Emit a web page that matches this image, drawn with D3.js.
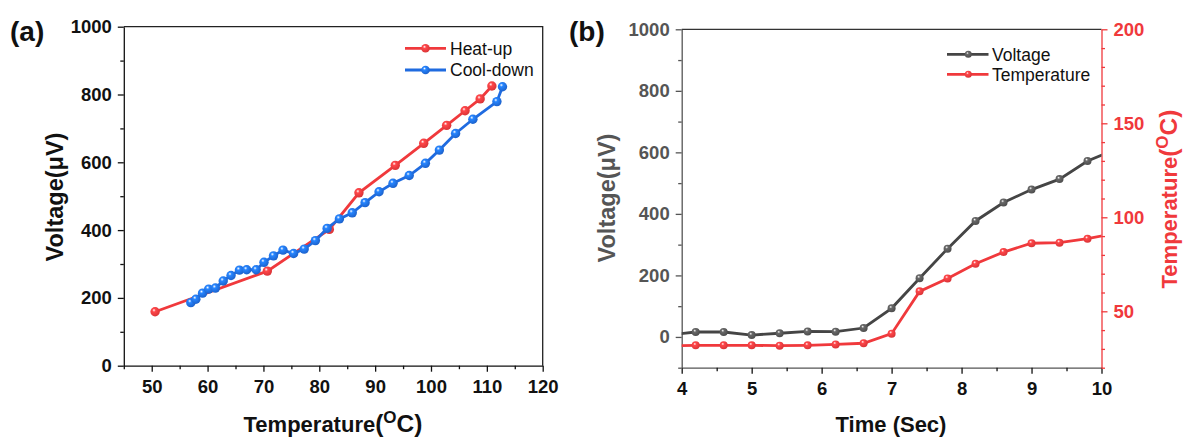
<!DOCTYPE html>
<html>
<head>
<meta charset="utf-8">
<script src="https://cdn.jsdelivr.net/npm/d3@7"></script>
<style>
  html, body { margin: 0; padding: 0; background: #fff; }
  svg { display: block; }
  text { font-family: Arial, "Liberation Sans", Helvetica, sans-serif; }
</style>
</head>
<body>
<svg id="chart" width="1183" height="443"></svg>
<script>
// ---------- Panel (a) data ----------
const heatTemp = [50.6, 70.7, 81.8, 87.1, 93.6, 98.7, 102.8, 106.1, 108.8, 110.9];
const heatVolt = [159, 279, 402, 510, 591, 656, 709, 752, 787, 825];
const coolTemp = [57.0, 57.9, 59.1, 60.2, 61.4, 62.8, 64.2, 65.7, 67.0, 68.7, 70.1, 71.8, 73.5, 75.4, 77.3, 79.3, 81.4, 83.6, 85.9, 88.2, 90.7, 93.2, 96.1, 99.0, 101.5, 104.4, 107.5, 111.8, 112.8];
const coolVolt = [186, 196, 214, 226, 229, 250, 266, 282, 283, 283, 305, 324, 341, 331, 344, 369, 405, 433, 451, 481, 513, 538, 561, 597, 636, 685, 727, 779, 823];
const aXTicks = [50, 60, 70, 80, 90, 100, 110, 120];
const aXMinor = [45, 55, 65, 75, 85, 95, 105, 115];
const aYTicks = [0, 200, 400, 600, 800, 1000];
const aYMinor = [100, 300, 500, 700, 900];
const aLegend = ["Heat-up", "Cool-down"];

// ---------- Panel (b) data ----------
const timeSec = [3.8, 4.2, 4.6, 5.0, 5.4, 5.8, 6.2, 6.6, 7.0, 7.4, 7.8, 8.2, 8.6, 9.0, 9.4, 9.8, 10.2];
const voltB   = [6, 16, 16, 6, 12, 18, 17, 29, 93, 191, 287, 377, 437, 479, 513, 572, 610];
const tempB   = [31.5, 31.9, 31.9, 31.9, 31.7, 31.9, 32.4, 33.0, 38.1, 60.6, 67.5, 75.3, 81.5, 86.2, 86.5, 88.6, 91.5];
const bXTicks = [4, 5, 6, 7, 8, 9, 10];
const bXMinor = [4.5, 5.5, 6.5, 7.5, 8.5, 9.5];
const bYTicks = [0, 200, 400, 600, 800, 1000];
const bYMinor = [-100, 100, 300, 500, 700, 900];
const bRTicks = [50, 100, 150, 200];
const bRMinor = [20, 30, 40, 60, 70, 80, 90, 110, 120, 130, 140, 160, 170, 180, 190];
const bLegend = ["Voltage", "Temperature"];

// ---------- Styles ----------
const RED = "#f0393c", BLUE = "#1f6be0", GRAY = "#454545", AXGRAY = "#555555";
const FONT = 'Arial, "Liberation Sans", Helvetica, sans-serif';
const TICK = 18.5;
const fmt = d3.format("d");
const svg = d3.select("#chart");
const defs = svg.append("defs");
function grad(id, base) {
  const g = defs.append("radialGradient").attr("id", id)
    .attr("cx", "40%").attr("cy", "38%").attr("r", "65%").attr("fx", "38%").attr("fy", "32%");
  g.append("stop").attr("offset", "0%").attr("stop-color", "#ffffff");
  g.append("stop").attr("offset", "28%").attr("stop-color", d3.color(base).brighter(0.6));
  g.append("stop").attr("offset", "100%").attr("stop-color", d3.color(base).darker(0.3));
}
grad("gRed", RED); grad("gBlue", BLUE); grad("gGray", "#555555");

function styleAxis(g, color, size) {
  g.attr("font-size", size).attr("font-family", FONT);
  g.selectAll("path.domain").attr("stroke", color).attr("stroke-width", 1.3);
  g.selectAll(".tick line").attr("stroke", color).attr("stroke-width", 1.3);
  g.selectAll(".tick text").attr("fill", color).attr("font-size", size).attr("font-weight", "bold")
    .attr("font-family", FONT);
}
function minorAxis(g, color) {
  g.select("path.domain").remove();
  g.selectAll(".tick line").attr("stroke", color).attr("stroke-width", 1.3);
  g.selectAll(".tick text").remove();
}
function tempTitle(sel, fill) {
  sel.attr("font-weight", "bold").attr("fill", fill).attr("text-anchor", "middle");
  sel.append("tspan").attr("font-size", 22).text("Temperature");
  sel.append("tspan").attr("font-size", 24.5).text("(");
  sel.append("tspan").attr("font-size", 17).attr("dy", -9).text("O");
  sel.append("tspan").attr("font-size", 24.5).attr("dy", 9).text("C)");
}

// ================= Panel (a) =================
const xA = d3.scaleLinear().domain([45, 120]).range([123.8, 542.7]);
const yA = d3.scaleLinear().domain([0, 1000]).range([365.7, 26.7]);

svg.append("path")
  .attr("d", `M${xA(45)},${yA(1000)}H${xA(120)}V${yA(0)}`)
  .attr("fill", "none").attr("stroke", "#222").attr("stroke-width", 1.3);

svg.append("g").attr("transform", `translate(0,${yA(0)})`)
  .call(d3.axisBottom(xA).tickValues(aXTicks).tickFormat(fmt).tickSize(6).tickPadding(8).tickSizeOuter(0))
  .call(g => styleAxis(g, "#111", TICK));
svg.append("g").attr("transform", `translate(0,${yA(0)})`)
  .call(d3.axisBottom(xA).tickValues(aXMinor).tickSize(3.5))
  .call(g => minorAxis(g, "#111"));
svg.append("g").attr("transform", `translate(${xA(45)},0)`)
  .call(d3.axisLeft(yA).tickValues(aYTicks).tickFormat(fmt).tickSize(6).tickPadding(6).tickSizeOuter(0))
  .call(g => styleAxis(g, "#111", TICK));
svg.append("g").attr("transform", `translate(${xA(45)},0)`)
  .call(d3.axisLeft(yA).tickValues(aYMinor).tickSize(3.5))
  .call(g => minorAxis(g, "#111"));

const heatData = heatTemp.map((t, i) => [t, heatVolt[i]]);
const coolData = coolTemp.map((t, i) => [t, coolVolt[i]]);
const lineA = d3.line().x(d => xA(d[0])).y(d => yA(d[1]));

svg.append("path").datum(heatData).attr("d", lineA)
  .attr("fill", "none").attr("stroke", RED).attr("stroke-width", 2.8);
svg.append("g").selectAll("circle").data(heatData).join("circle")
  .attr("cx", d => xA(d[0])).attr("cy", d => yA(d[1])).attr("r", 4.7)
  .attr("fill", "url(#gRed)");
svg.append("path").datum(coolData).attr("d", lineA)
  .attr("fill", "none").attr("stroke", BLUE).attr("stroke-width", 2.8);
svg.append("g").selectAll("circle").data(coolData).join("circle")
  .attr("cx", d => xA(d[0])).attr("cy", d => yA(d[1])).attr("r", 4.7)
  .attr("fill", "url(#gBlue)");

const legA = svg.append("g");
[[RED, "url(#gRed)"], [BLUE, "url(#gBlue)"]].forEach((c, i) => {
  const y = 48.3 + i * 21.7;
  legA.append("line").attr("x1", 405).attr("x2", 446).attr("y1", y).attr("y2", y)
    .attr("stroke", c[0]).attr("stroke-width", 2.8);
  legA.append("circle").attr("cx", 425.5).attr("cy", y).attr("r", 4.3).attr("fill", c[1]);
  legA.append("text").attr("x", 450).attr("y", y + 6.2).attr("font-size", 17.5)
    .attr("fill", "#111").text(aLegend[i]);
});

tempTitle(svg.append("text").attr("x", 333).attr("y", 432), "#111");

svg.append("text").attr("transform", `translate(63,197) rotate(-90)`)
  .attr("text-anchor", "middle").attr("font-size", 23.5).attr("font-weight", "bold")
  .attr("fill", "#111").text("Voltage(μV)");

svg.append("text").attr("x", 10).attr("y", 41).attr("font-size", 28).attr("font-weight", "bold")
  .attr("fill", "#111").text("(a)");

// ================= Panel (b) =================
const xB = d3.scaleLinear().domain([4, 10]).range([681.7, 1101.5]);
const yBL = d3.scaleLinear().domain([-100, 1000]).range([367.7, 29.3]);
const yBR = d3.scaleLinear().domain([20, 200]).range([367.7, 29.3]);

svg.append("line").attr("x1", xB(4)).attr("x2", xB(10)).attr("y1", yBL(1000)).attr("y2", yBL(1000))
  .attr("stroke", "#333").attr("stroke-width", 1.3);

svg.append("g").attr("transform", `translate(0,${yBL(-100)})`)
  .call(d3.axisBottom(xB).tickValues(bXTicks).tickFormat(fmt).tickSize(6).tickPadding(8).tickSizeOuter(0))
  .call(g => styleAxis(g, "#111", TICK))
  .call(g => g.select("path.domain").attr("stroke", AXGRAY));
svg.append("g").attr("transform", `translate(0,${yBL(-100)})`)
  .call(d3.axisBottom(xB).tickValues(bXMinor).tickSize(3.5))
  .call(g => minorAxis(g, "#111"));
svg.append("g").attr("transform", `translate(${xB(4)},0)`)
  .call(d3.axisLeft(yBL).tickValues(bYTicks).tickFormat(fmt).tickSize(6).tickPadding(6).tickSizeOuter(0))
  .call(g => styleAxis(g, AXGRAY, TICK));
svg.append("g").attr("transform", `translate(${xB(4)},0)`)
  .call(d3.axisLeft(yBL).tickValues(bYMinor).tickSize(3.5))
  .call(g => minorAxis(g, AXGRAY));
svg.append("g").attr("transform", `translate(${xB(10)},0)`)
  .call(d3.axisRight(yBR).tickValues(bRTicks).tickFormat(fmt).tickSize(6).tickPadding(6).tickSizeOuter(0))
  .call(g => styleAxis(g, RED, TICK));
svg.append("g").attr("transform", `translate(${xB(10)},0)`)
  .call(d3.axisRight(yBR).tickValues(bRMinor).tickSize(3.5))
  .call(g => minorAxis(g, RED));

defs.append("clipPath").attr("id", "clipB").append("rect")
  .attr("x", xB(4)).attr("y", yBL(1000)).attr("width", xB(10) - xB(4)).attr("height", yBL(-100) - yBL(1000));

const plotB = svg.append("g").attr("clip-path", "url(#clipB)");
const voltData = timeSec.map((t, i) => [t, voltB[i]]);
const tempData = timeSec.map((t, i) => [t, tempB[i]]);

plotB.append("path").datum(tempData)
  .attr("d", d3.line().x(d => xB(d[0])).y(d => yBR(d[1])))
  .attr("fill", "none").attr("stroke", RED).attr("stroke-width", 2.8);
plotB.append("g").selectAll("circle").data(tempData).join("circle")
  .attr("cx", d => xB(d[0])).attr("cy", d => yBR(d[1])).attr("r", 4)
  .attr("fill", "url(#gRed)");
plotB.append("path").datum(voltData)
  .attr("d", d3.line().x(d => xB(d[0])).y(d => yBL(d[1])))
  .attr("fill", "none").attr("stroke", GRAY).attr("stroke-width", 2.8);
plotB.append("g").selectAll("circle").data(voltData).join("circle")
  .attr("cx", d => xB(d[0])).attr("cy", d => yBL(d[1])).attr("r", 4)
  .attr("fill", "url(#gGray)");

const legB = svg.append("g");
[[GRAY, "url(#gGray)"], [RED, "url(#gRed)"]].forEach((c, i) => {
  const y = 54.3 + i * 20;
  legB.append("line").attr("x1", 947).attr("x2", 988.5).attr("y1", y).attr("y2", y)
    .attr("stroke", c[0]).attr("stroke-width", 2.8);
  legB.append("circle").attr("cx", 968.3).attr("cy", y).attr("r", 3.5).attr("fill", c[1]);
  legB.append("text").attr("x", 992).attr("y", y + 6.2).attr("font-size", 17.5)
    .attr("fill", "#111").text(bLegend[i]);
});

svg.append("text").attr("x", 891).attr("y", 432).attr("text-anchor", "middle")
  .attr("font-size", 22).attr("font-weight", "bold").attr("fill", "#111").text("Time (Sec)");

svg.append("text").attr("transform", `translate(615,198) rotate(-90)`)
  .attr("text-anchor", "middle").attr("font-size", 23.5).attr("font-weight", "bold")
  .attr("fill", AXGRAY).text("Voltage(μV)");

tempTitle(svg.append("text").attr("transform", `translate(1176.5,199) rotate(-90)`), RED);

svg.append("text").attr("x", 569).attr("y", 41).attr("font-size", 28).attr("font-weight", "bold")
  .attr("fill", "#111").text("(b)");
</script>
</body>
</html>
